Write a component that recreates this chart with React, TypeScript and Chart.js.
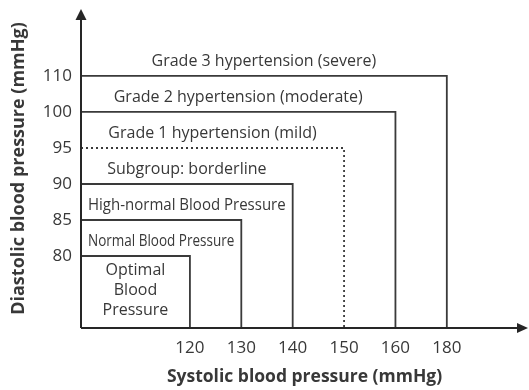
import React, { useEffect, useRef } from 'react';
import { Chart, registerables } from 'chart.js';

Chart.register(...registerables);

// ---- data ----
const systolicLimits = [120, 130, 140, 150, 160, 180];
const diastolicLimits = [80, 85, 90, 95, 100, 110];
const categoryLabels: string[][] = [
  ['Optimal', 'Blood', 'Pressure'],
  ['Normal Blood Pressure'],
  ['High-normal Blood Pressure'],
  ['Subgroup: borderline'],
  ['Grade 1 hypertension (mild)'],
  ['Grade 2 hypertension (moderate)'],
  ['Grade 3 hypertension (severe)'],
];
const boxDashed = [false, false, false, true, false, false];
const xTitle = 'Systolic blood pressure (mmHg)';
const yTitle = 'Diastolic blood pressure (mmHg)';

// ---- layout / style ----
const LEAD = 2; // axis units before the first threshold
const X_MIN = -0.12;
const X_MAX = 8.58;
const Y_MIN = 0;
const Y_MAX = 8.86;
const LINE = '#3a3a3a';
const AXIS = '#262626';
const TEXT = '#383838';
const FONT = '"Open Sans", "Noto Sans", sans-serif';
const labelRef = [0, 1, 2, 2, 3, 4, 5];

const xPos = (v: number) => LEAD + systolicLimits.indexOf(v);
const yPos = (v: number) => LEAD + diastolicLimits.indexOf(v);

const overlayPlugin = {
  id: 'overlay',
  afterDatasetsDraw(chart: any) {
    const { ctx, chartArea, scales } = chart;
    const x = scales.x;
    const y = scales.y;
    ctx.save();
    ctx.fillStyle = TEXT;
    ctx.font = `16px ${FONT}`;
    ctx.textAlign = 'center';
    ctx.textBaseline = 'middle';
    categoryLabels.forEach((lines, i) => {
      const right = x.getPixelForValue(xPos(systolicLimits[labelRef[i]]));
      const cx = (chartArea.left + right) / 2;
      const maxW = right - chartArea.left - 14;
      const lo = i === 0 ? 0 : yPos(diastolicLimits[i - 1]);
      const hi =
        i < diastolicLimits.length
          ? yPos(diastolicLimits[i])
          : yPos(diastolicLimits[diastolicLimits.length - 1]) + 1;
      const cy = (y.getPixelForValue(lo) + y.getPixelForValue(hi)) / 2 + (lines.length === 1 ? 3 : -2);
      const lh = 20;
      lines.forEach((t, k) => {
        ctx.fillText(t, cx, cy + (k - (lines.length - 1) / 2) * lh, maxW);
      });
    });

    // axes with arrows
    const L = chartArea.left;
    const B = chartArea.bottom;
    const R = chartArea.right;
    const T = chartArea.top;
    ctx.strokeStyle = AXIS;
    ctx.fillStyle = AXIS;
    ctx.lineWidth = 2;
    ctx.beginPath();
    ctx.moveTo(L, B);
    ctx.lineTo(R - 8, B);
    ctx.moveTo(L, B);
    ctx.lineTo(L, T + 8);
    ctx.stroke();
    ctx.beginPath();
    ctx.moveTo(R, B);
    ctx.lineTo(R - 11, B - 5);
    ctx.lineTo(R - 11, B + 5);
    ctx.closePath();
    ctx.fill();
    ctx.beginPath();
    ctx.moveTo(L, T);
    ctx.lineTo(L - 5.5, T + 11);
    ctx.lineTo(L + 5.5, T + 11);
    ctx.closePath();
    ctx.fill();
    ctx.restore();
  },
};

export default function App() {
  const ref = useRef<HTMLCanvasElement | null>(null);

  useEffect(() => {
    document.body.style.margin = '0';
    const canvas = ref.current;
    if (!canvas) return;

    const datasets = systolicLimits.map((s, i) => ({
      data: [
        { x: X_MIN, y: yPos(diastolicLimits[i]) },
        { x: xPos(s), y: yPos(diastolicLimits[i]) },
        { x: xPos(s), y: Y_MIN },
      ],
      borderColor: LINE,
      borderWidth: 1.8,
      borderDash: boxDashed[i] ? [2, 3] : [],
      pointRadius: 0,
      fill: false,
      tension: 0,
    }));

    const chart = new Chart(canvas, {
      type: 'line',
      data: { datasets },
      plugins: [overlayPlugin],
      options: {
        responsive: false,
        animation: false,
        layout: { padding: { top: 9, right: 1, left: 0, bottom: 0 } },
        plugins: { legend: { display: false }, tooltip: { enabled: false } },
        scales: {
          x: {
            type: 'linear',
            min: X_MIN,
            max: X_MAX,
            grid: { display: false, drawTicks: false },
            border: { display: false },
            afterBuildTicks: (scale: any) => {
              scale.ticks = systolicLimits.map((v) => ({ value: xPos(v) }));
            },
            afterFit: (scale: any) => {
              scale.height = 62;
              scale.paddingLeft = 0;
              scale.paddingRight = 0;
            },
            ticks: {
              padding: 10,
              color: TEXT,
              font: { family: FONT, size: 17 },
              callback: (val: any) => {
                const idx = Math.round(Number(val) - LEAD);
                return systolicLimits[idx] !== undefined ? String(systolicLimits[idx]) : '';
              },
            },
            title: {
              display: true,
              text: xTitle,
              color: TEXT,
              font: { family: FONT, size: 17.5, weight: 'bold' },
              padding: { top: 0, bottom: 2 },
            },
          },
          y: {
            type: 'linear',
            min: Y_MIN,
            max: Y_MAX,
            grid: { display: false, drawTicks: false },
            border: { display: false },
            afterBuildTicks: (scale: any) => {
              scale.ticks = diastolicLimits.map((v) => ({ value: yPos(v) }));
            },
            afterFit: (scale: any) => {
              scale.width = 81;
              scale.paddingTop = 0;
              scale.paddingBottom = 0;
            },
            ticks: {
              padding: 9,
              color: TEXT,
              font: { family: FONT, size: 17 },
              callback: (val: any) => {
                const idx = Math.round(Number(val) - LEAD);
                return diastolicLimits[idx] !== undefined ? String(diastolicLimits[idx]) : '';
              },
            },
            title: {
              display: true,
              text: yTitle,
              color: TEXT,
              font: { family: FONT, size: 18, weight: 'bold' },
              padding: { top: 8, bottom: 0 },
            },
          },
        },
      } as any,
    });
    return () => chart.destroy();
  }, []);

  return (
    <div style={{ width: 529, height: 390 }}>
      <canvas ref={ref} width={529} height={390} style={{ display: 'block' }} />
    </div>
  );
}
